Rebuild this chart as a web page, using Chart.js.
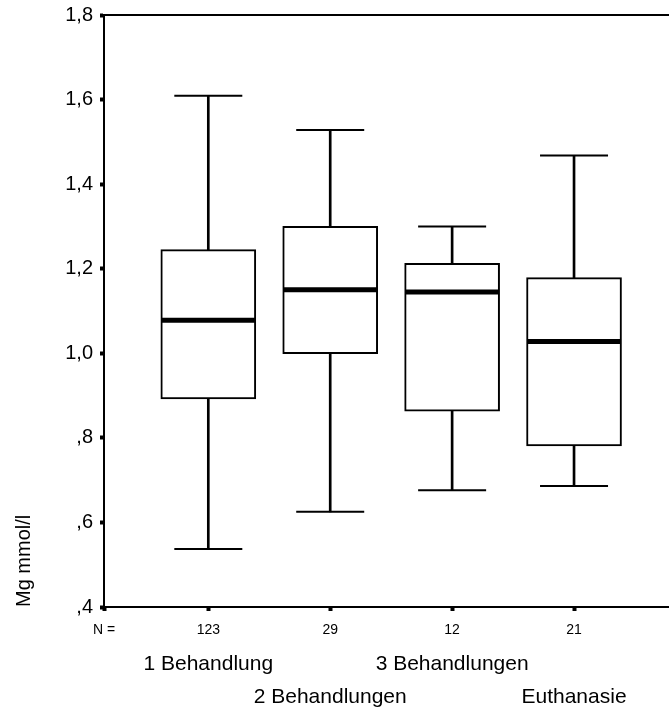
<!DOCTYPE html>
<html>
<head>
<meta charset="utf-8">
<script src="https://cdn.jsdelivr.net/npm/chart.js@4/dist/chart.umd.min.js"></script>
<style>
  html, body { margin: 0; padding: 0; background: #fff; }
  #wrap { width: 669px; height: 707px; position: relative; }
</style>
</head>
<body>
<div id="wrap"><canvas id="c"></canvas></div>
<script>
// ---- data ----
const categories = ['1 Behandlung', '2 Behandlungen', '3 Behandlungen', 'Euthanasie'];
const nCounts    = [123, 29, 12, 21];
const whiskerMin = [0.537, 0.625, 0.676, 0.686];
const q1         = [0.892, 0.999, 0.863, 0.781];
const medians    = [1.078, 1.150, 1.145, 1.028];
const q3         = [1.245, 1.300, 1.213, 1.179];
const whiskerMax = [1.609, 1.528, 1.300, 1.468];
const yTicks     = [0.4, 0.6, 0.8, 1.0, 1.2, 1.4, 1.6, 1.8];
const yTitle     = 'Mg mmol/l';
const nLabel     = 'N =';

// ---- build chart structures ----
const X_MIN = 0.1444, X_MAX = 4.779;
const pos = categories.map((c, i) => i + 1);
const FONT = "'Liberation Sans', Arial, Helvetica, sans-serif";

Chart.defaults.color = '#000';
Chart.defaults.font.family = FONT;

const fmtY = v => {
  let s = (Math.round(v * 10) / 10).toFixed(1).replace('.', ',');
  if (s.startsWith('0')) s = s.slice(1);
  return s;
};

const topFrame = {
  id: 'topFrame',
  afterDraw(chart) {
    const { ctx, chartArea } = chart;
    ctx.save();
    ctx.strokeStyle = '#000';
    ctx.lineWidth = 2;
    ctx.beginPath();
    ctx.moveTo(chartArea.left, chartArea.top);
    ctx.lineTo(chartArea.right, chartArea.top);
    ctx.stroke();
    ctx.restore();
  }
};

new Chart(document.getElementById('c'), {
  type: 'bar',
  plugins: [topFrame],
  data: {
    datasets: [
      { // medians
        type: 'scatter',
        data: pos.map((x, i) => ({ x, y: medians[i] })),
        pointStyle: 'line', pointRadius: 47, pointBorderWidth: 5,
        borderColor: '#000', backgroundColor: '#000', pointHoverRadius: 47
      },
      { // whisker caps (max)
        type: 'scatter',
        data: pos.map((x, i) => ({ x, y: whiskerMax[i] })),
        pointStyle: 'line', pointRadius: 34, pointBorderWidth: 2,
        borderColor: '#000', backgroundColor: '#000', pointHoverRadius: 34
      },
      { // whisker caps (min)
        type: 'scatter',
        data: pos.map((x, i) => ({ x, y: whiskerMin[i] })),
        pointStyle: 'line', pointRadius: 34, pointBorderWidth: 2,
        borderColor: '#000', backgroundColor: '#000', pointHoverRadius: 34
      },
      { // boxes
        type: 'bar',
        data: pos.map((x, i) => ({ x, y: [q1[i], q3[i]] })),
        backgroundColor: '#fff', borderColor: '#000', borderWidth: 2,
        borderSkipped: false, barThickness: 95, grouped: false
      },
      { // whisker stems
        type: 'bar',
        data: pos.map((x, i) => ({ x, y: [whiskerMin[i], whiskerMax[i]] })),
        backgroundColor: '#000', borderWidth: 0,
        barThickness: 2, grouped: false
      }
    ]
  },
  options: {
    responsive: true,
    maintainAspectRatio: false,
    animation: false,
    events: [],
    layout: { autoPadding: false, padding: { top: 15, right: 0, bottom: 0, left: 0 } },
    plugins: { legend: { display: false }, tooltip: { enabled: false } },
    scales: {
      y: {
        type: 'linear', position: 'left',
        min: 0.4, max: 1.8,
        afterBuildTicks: s => { s.ticks = yTicks.map(v => ({ value: v })); },
        afterFit: s => { s.width = 104; s.paddingTop = 0; s.paddingBottom = 0; },
        ticks: { callback: v => fmtY(v), font: { size: 20 }, padding: 7, color: '#000' },
        grid: { display: true, drawOnChartArea: false, drawTicks: true, tickLength: 4, tickWidth: 4, tickColor: '#000' },
        border: { display: true, color: '#000', width: 2 },
        title: { display: true, text: yTitle, align: 'start', font: { size: 20 }, color: '#000', padding: { top: 12, bottom: 0 } }
      },
      x: {
        type: 'linear', position: 'bottom',
        offset: false,
        min: X_MIN, max: X_MAX,
        afterBuildTicks: s => { s.ticks = [{ value: X_MIN }].concat(pos.map(v => ({ value: v }))); },
        afterFit: s => { s.height = 30; s.paddingLeft = 0; s.paddingRight = 0; },
        ticks: {
          autoSkip: false, maxRotation: 0, minRotation: 0, font: { size: 14 }, padding: 11, color: '#000',
          callback: (v) => v === X_MIN ? nLabel : String(nCounts[Math.round(v) - 1])
        },
        grid: { display: true, offset: false, drawOnChartArea: false, drawTicks: true, tickLength: 4, tickWidth: 4, tickColor: '#000' },
        border: { display: true, color: '#000', width: 2 }
      },
      x2: {
        type: 'linear', position: 'bottom',
        offset: false,
        min: X_MIN, max: X_MAX,
        afterBuildTicks: s => { s.ticks = pos.map(v => ({ value: v })); },
        afterFit: s => { s.height = 70; s.paddingLeft = 0; s.paddingRight = 0; },
        ticks: {
          autoSkip: false, maxRotation: 0, minRotation: 0, font: { size: 21, lineHeight: 1.571 }, padding: 2.5, color: '#000',
          callback: (v) => {
            const i = Math.round(v) - 1;
            return i % 2 === 0 ? [categories[i], ''] : ['', categories[i]];
          }
        },
        grid: { display: false, offset: false },
        border: { display: false }
      }
    }
  }
});
</script>
</body>
</html>
